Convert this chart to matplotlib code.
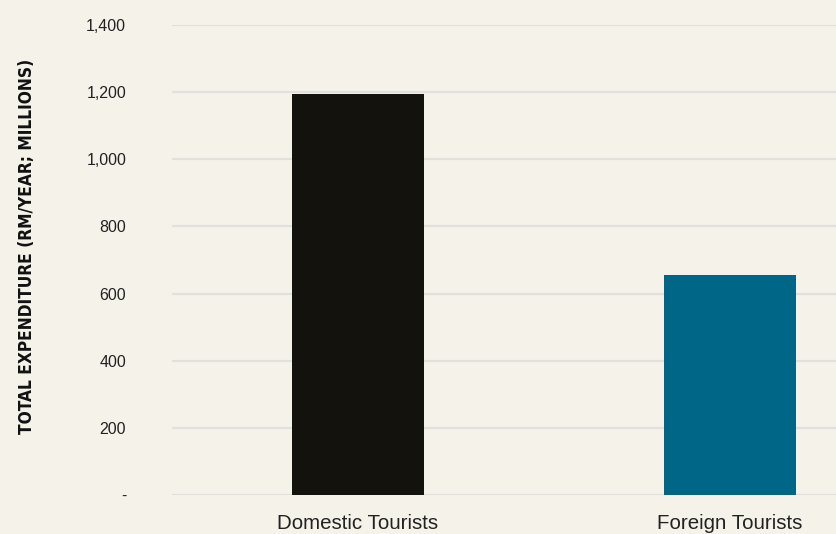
import matplotlib
matplotlib.use("Agg")
import matplotlib.pyplot as plt
from matplotlib.ticker import FuncFormatter

categories = ["Domestic Tourists", "Foreign Tourists"]
expenditure = [1195, 655]
bar_colors = ["#13120d", "#006687"]
y_ticks = [0, 200, 400, 600, 800, 1000, 1200, 1400]

bg = "#f5f2ea"

fig = plt.figure(figsize=(8.36, 5.34), dpi=100, facecolor=bg)
ax = fig.add_axes([172/836, 1 - 495/534, 744/836, 470/534], facecolor=bg)

x = range(len(categories))
ax.bar(x, expenditure, width=0.355, color=bar_colors, zorder=3)

ax.set_xlim(-0.5, 1.5)
ax.set_ylim(0, 1400)
ax.set_yticks(y_ticks)
ax.yaxis.set_major_formatter(FuncFormatter(lambda v, p: "-" if v == 0 else f"{int(v):,}"))
ax.set_xticks(list(x))
ax.set_xticklabels(categories)

ax.grid(axis="y", color="#e2e0da", linewidth=1.6, zorder=0)
ax.set_axisbelow(True)
for s in ax.spines.values():
    s.set_visible(False)

ax.tick_params(axis="y", length=0, pad=33, labelsize=11.5, labelcolor="#222222")
ax.tick_params(axis="x", length=0, pad=14, labelsize=14.8, labelcolor="#222222")
for lab in ax.get_xticklabels() + ax.get_yticklabels():
    lab.set_family("Liberation Sans")

ylab = fig.text(27/836, 1 - 246/534, "TOTAL EXPENDITURE (RM/YEAR; MILLIONS)",
                rotation=90, ha="center", va="center", fontsize=16,
                family="DejaVu Sans", fontstretch="condensed", fontweight="bold",
                color="#111111")

# shrink the vertical title so it spans about 378 px
fig.canvas.draw()
h = ylab.get_window_extent().height
ylab.set_fontsize(16 * 378 / h)

fig.savefig("out.png", dpi=100, facecolor=bg)
